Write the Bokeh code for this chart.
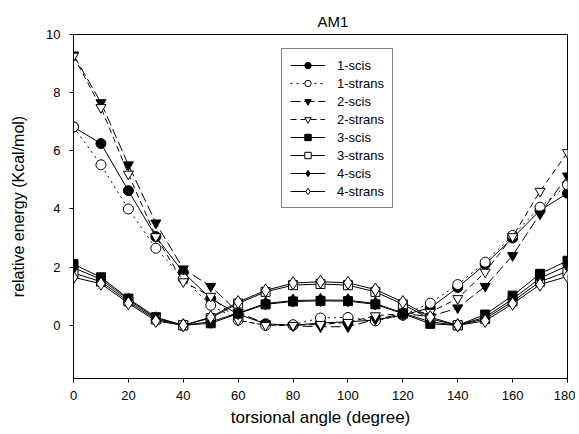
from bokeh.plotting import figure
from bokeh.models import Range1d, FixedTicker, Legend, LegendItem
from bokeh.embed import file_html
from bokeh.resources import INLINE

angles = [0, 10, 20, 30, 40, 50, 60, 70, 80, 90, 100, 110, 120, 130, 140, 150, 160, 170, 180]

s1_scis = [6.82, 6.25, 4.63, 3.05, 1.82, 0.92, 0.38, 0.05, 0.0, 0.08, 0.12, 0.18, 0.35, 0.6, 1.3, 2.1, 3.0, 3.95, 4.54]
s1_strans = [6.82, 5.52, 4.0, 2.65, 1.6, 0.69, 0.18, 0.0, 0.02, 0.25, 0.27, 0.15, 0.35, 0.76, 1.4, 2.17, 3.09, 4.06, 4.83]
s2_scis = [9.3, 7.66, 5.52, 3.52, 1.94, 1.34, 0.45, 0.05, -0.02, -0.05, -0.05, 0.2, 0.4, 0.3, 0.6, 1.34, 2.4, 3.83, 5.14]
s2_strans = [9.26, 7.49, 5.2, 3.05, 1.5, 1.0, 0.17, 0.0, 0.0, 0.03, 0.1, 0.33, 0.4, 0.45, 0.92, 1.83, 3.05, 4.61, 5.94]
s3_scis = [2.1, 1.65, 0.92, 0.28, 0.0, 0.07, 0.4, 0.72, 0.82, 0.84, 0.83, 0.72, 0.4, 0.05, 0.0, 0.37, 1.02, 1.77, 2.22]
s3_strans = [1.8, 1.5, 0.82, 0.2, 0.0, 0.25, 0.75, 1.15, 1.38, 1.42, 1.38, 1.15, 0.72, 0.22, 0.0, 0.22, 0.82, 1.5, 1.85]
s4_scis = [1.98, 1.58, 0.88, 0.24, 0.0, 0.12, 0.42, 0.75, 0.85, 0.87, 0.86, 0.75, 0.42, 0.12, 0.0, 0.28, 0.9, 1.62, 2.05]
s4_strans = [1.65, 1.43, 0.76, 0.15, 0.0, 0.28, 0.8, 1.2, 1.45, 1.5, 1.46, 1.23, 0.8, 0.28, 0.0, 0.15, 0.74, 1.4, 1.68]

labels = ["1-scis", "1-strans", "2-scis", "2-strans", "3-scis", "3-strans", "4-scis", "4-strans"]
series = [s1_scis, s1_strans, s2_scis, s2_strans, s3_scis, s3_strans, s4_scis, s4_strans]
markers = ["circle", "circle", "inverted_triangle", "inverted_triangle", "square", "square", "diamond", "diamond"]
filled = [True, False, True, False, True, False, True, False]
dashes = ["solid", "dotted", "10 4", "6 4", "solid", "solid", "solid", "solid"]
sizes = [10, 10, 10, 10, 9, 9, 13, 13]

x_ticks = [0, 20, 40, 60, 80, 100, 120, 140, 160, 180]
y_ticks = [0, 2, 4, 6, 8, 10]

FONT = "Liberation Sans"

p = figure(width=575, height=434, output_backend="svg", toolbar_location=None,
           x_range=Range1d(0, 180), y_range=Range1d(-1.83, 10),
           min_border_left=73, min_border_right=8, min_border_top=34, min_border_bottom=56,
           title="AM1")
p.title.align = "left"
p.title.offset = 244
p.title.text_font = FONT
p.title.text_font_size = "15px"
p.title.text_font_style = "normal"
p.title.text_color = "black"

p.xgrid.visible = False
p.ygrid.visible = False
p.outline_line_color = "black"
p.outline_line_width = 1

for ax in (p.xaxis[0], p.yaxis[0]):
    ax.major_label_text_font = FONT
    ax.major_label_text_font_size = "13px"
    ax.major_label_text_color = "black"
    ax.axis_label_text_font = FONT
    ax.axis_label_text_font_style = "normal"
    ax.axis_label_text_color = "black"
    ax.axis_line_color = "black"
    ax.major_tick_line_color = "black"
    ax.major_tick_out = 4
    ax.major_tick_in = 0
    ax.minor_tick_line_color = None

p.xaxis.ticker = FixedTicker(ticks=x_ticks)
p.yaxis.ticker = FixedTicker(ticks=y_ticks)
p.xaxis.axis_label = "torsional angle (degree)"
p.yaxis.axis_label = "relative energy (Kcal/mol)"
p.xaxis.axis_label_text_font_size = "17px"
p.yaxis.axis_label_text_font_size = "16px"
p.xaxis.major_label_standoff = 8
p.yaxis.major_label_standoff = 9
p.xaxis.axis_label_standoff = 5
p.yaxis.axis_label_standoff = 16

items = []
for lab, ys, mk, fl, ds, sz in zip(labels, series, markers, filled, dashes, sizes):
    r_line = p.line(angles, ys, line_color="black", line_width=1, line_dash=ds)
    r_pts = p.scatter(angles, ys, marker=mk, size=sz, line_color="black", line_width=1,
                      fill_color="black" if fl else "white")
    items.append(LegendItem(label=lab, renderers=[r_line, r_pts]))

legend = Legend(items=items, location=(208, 170))
legend.label_text_font = FONT
legend.label_text_font_size = "13px"
legend.label_text_color = "black"
legend.border_line_color = "black"
legend.border_line_width = 1
legend.background_fill_color = "white"
legend.background_fill_alpha = 1
legend.glyph_width = 35
legend.glyph_height = 16
legend.label_height = 16
legend.spacing = 2
legend.padding = 8
legend.margin = 0
legend.label_standoff = 12
p.add_layout(legend, "center")

open("out.html", "w").write(file_html(p, INLINE))
